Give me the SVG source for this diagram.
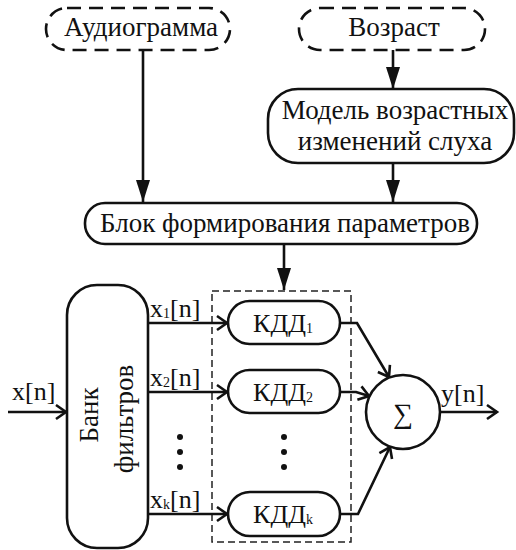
<svg xmlns="http://www.w3.org/2000/svg" width="516" height="550" viewBox="0 0 516 550" font-family="Liberation Serif, Times New Roman, serif" font-size="27">
<style>
text{fill:#111;}
.c{text-anchor:middle;}
.box{fill:#fff;stroke:#111;stroke-width:2.6;}
.dash{fill:#fff;stroke:#111;stroke-width:2.6;stroke-dasharray:14 8;}
.frame{fill:none;stroke:#222;stroke-width:1.5;stroke-dasharray:7 4;}
.ln{fill:none;stroke:#111;stroke-width:2.6;}
.lab{font-size:26px;}
.sub{font-size:14px;}
</style>
<defs>
<marker id="tri" viewBox="0 0 22 14" refX="22" refY="7" markerWidth="22" markerHeight="14" markerUnits="userSpaceOnUse" orient="auto">
<path d="M0,0 L22,7 L0,14 Z" fill="#111"/>
</marker>
<marker id="open" viewBox="0 0 12 16" refX="11" refY="8" markerWidth="12" markerHeight="16" markerUnits="userSpaceOnUse" orient="auto" overflow="visible">
<path d="M1,1 L11,8 L1,15" fill="none" stroke="#111" stroke-width="2.6"/>
</marker>
</defs>

<rect class="frame" x="212" y="291" width="139" height="251"/>

<g id="connectors">
<line class="ln" x1="143" y1="50" x2="143" y2="202" marker-end="url(#tri)"/>
<line class="ln" x1="393" y1="50" x2="393" y2="89" marker-end="url(#tri)"/>
<line class="ln" x1="393" y1="163" x2="393" y2="202" marker-end="url(#tri)"/>
<line class="ln" x1="284" y1="244" x2="284" y2="290" marker-end="url(#tri)"/>
<line class="ln" x1="8" y1="412" x2="66" y2="412" marker-end="url(#open)"/>
<line class="ln" x1="148" y1="323" x2="227" y2="323" marker-end="url(#open)"/>
<line class="ln" x1="148" y1="392" x2="227" y2="392" marker-end="url(#open)"/>
<line class="ln" x1="148" y1="514" x2="227" y2="514" marker-end="url(#open)"/>
<polyline class="ln" points="340,323 357,323 389,377" marker-end="url(#open)"/>
<polyline class="ln" points="340,392 356,392 369,396" marker-end="url(#open)"/>
<polyline class="ln" points="340,514 358,514 390,447" marker-end="url(#open)"/>
<line class="ln" x1="440" y1="412" x2="497" y2="412" marker-end="url(#open)"/>
</g>

<g id="audiogram">
<rect class="dash" x="46" y="8" width="184" height="42" rx="21"/>
<text class="c" x="141" y="36">Аудиограмма</text>
</g>
<g id="age">
<rect class="dash" x="299" y="8" width="186" height="42" rx="21"/>
<text class="c" x="394" y="36">Возраст</text>
</g>
<g id="model">
<rect class="box" x="268" y="89" width="246" height="74" rx="30"/>
<text class="c" x="395" y="119">Модель возрастных</text>
<text class="c" x="395" y="150">изменений слуха</text>
</g>
<g id="params">
<rect class="box" x="85" y="203" width="392" height="41" rx="20"/>
<text class="c" x="285" y="232">Блок формирования параметров</text>
</g>
<g id="filterbank">
<rect class="box" x="67" y="285" width="81" height="263" rx="30"/>
<text class="c" transform="translate(98,415) rotate(-90)">Банк</text>
<text class="c" transform="translate(133,419) rotate(-90)">фильтров</text>
</g>
<g id="kdd1" class="lab">
<rect class="box" x="228" y="301" width="112" height="43" rx="21.5"/>
<text class="c" x="283" y="332">КДД<tspan class="sub" dy="1">1</tspan></text>
</g>
<g id="kdd2" class="lab">
<rect class="box" x="228" y="370" width="112" height="43" rx="21.5"/>
<text class="c" x="283" y="401">КДД<tspan class="sub" dy="1">2</tspan></text>
</g>
<g id="kddk" class="lab">
<rect class="box" x="228" y="492" width="112" height="44" rx="22"/>
<text class="c" x="283" y="523">КДД<tspan class="sub" dy="1">k</tspan></text>
</g>
<g id="sum">
<circle class="box" cx="403" cy="412" r="37"/>
<text class="c" x="403" y="423" font-size="28">∑</text>
</g>

<g id="labels" class="lab">
<text x="12" y="400">x[n]</text>
<text x="150" y="317">x<tspan class="sub" dy="1">1</tspan><tspan dy="-1">[n]</tspan></text>
<text x="150" y="386">x<tspan class="sub" dy="1">2</tspan><tspan dy="-1">[n]</tspan></text>
<text x="150" y="508">x<tspan class="sub" dy="1">k</tspan><tspan dy="-1">[n]</tspan></text>
<text x="441" y="402">y[n]</text>
</g>

<g id="dots" fill="#111">
<circle cx="180" cy="437" r="3"/><circle cx="180" cy="452" r="3"/><circle cx="180" cy="467" r="3"/>
<circle cx="284" cy="437" r="3"/><circle cx="284" cy="452" r="3"/><circle cx="284" cy="467" r="3"/>
</g>
</svg>
